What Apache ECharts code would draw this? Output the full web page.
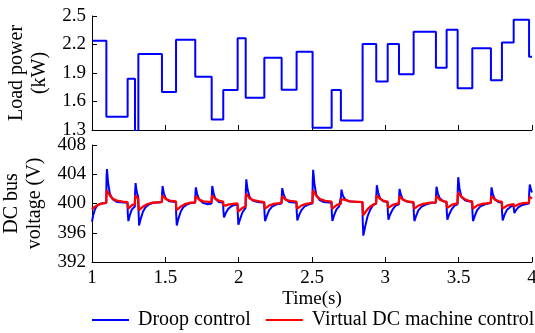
<!DOCTYPE html>
<html>
<head>
<meta charset="utf-8">
<script src="https://cdn.jsdelivr.net/npm/echarts@6/dist/echarts.min.js"></script>
<style>html,body{margin:0;padding:0;background:#fff;}#c{width:535px;height:333px;}</style>
</head>
<body>
<div id="c"></div>
<script>
// ---- data ----
const xTicks = [1, 1.5, 2, 2.5, 3, 3.5, 4];
const powerTicks = [1.3, 1.6, 1.9, 2.2, 2.5];
const voltageTicks = [392, 396, 400, 404, 408];

// load power steps [time (s), kW]
const loadPower = [
  [1.0,2.24],[1.098,1.44],[1.243,1.84],[1.293,1.28],[1.316,2.10],[1.477,1.70],[1.573,2.25],
  [1.704,1.86],[1.816,1.41],[1.895,1.72],[1.993,2.265],[2.048,1.64],[2.175,2.06],[2.293,1.725],
  [2.395,2.125],[2.504,1.325],[2.634,1.72],[2.697,1.40],[2.845,2.205],[2.938,1.81],[3.016,2.205],
  [3.093,1.886],[3.193,2.335],[3.345,1.956],[3.418,2.356],[3.493,1.74],[3.593,2.16],[3.72,1.823],
  [3.795,2.22],[3.875,2.46],[3.98,2.07],[4.0,2.07]
];

// droop control DC bus voltage [time, V]
const droopVoltage = [
  [1.000,397.5],[1.008,398.4],[1.02,399.2],[1.035,399.7],[1.06,400.0],[1.097,400.1],
  [1.099,403.5],[1.102,404.7],[1.110,402.8],[1.122,401.3],[1.140,400.6],[1.170,400.2],[1.242,400.1],
  [1.244,398.6],[1.248,397.6],[1.258,398.4],[1.272,399.2],[1.292,399.6],
  [1.294,401.5],[1.297,402.8],[1.305,401.6],[1.315,400.9],
  [1.317,399.2],[1.321,397.0],[1.332,397.9],[1.348,398.9],[1.365,399.5],[1.39,399.9],[1.42,400.1],[1.476,400.2],
  [1.478,401.3],[1.481,402.4],[1.490,401.4],[1.503,400.7],[1.525,400.3],[1.572,400.2],
  [1.574,398.5],[1.578,397.0],[1.589,397.9],[1.605,398.9],[1.622,399.5],[1.65,399.9],[1.68,400.1],[1.703,400.1],
  [1.705,401.2],[1.708,402.2],[1.717,401.3],[1.730,400.6],[1.755,400.1],[1.790,399.9],[1.815,400.0],
  [1.817,401.2],[1.820,402.4],[1.829,401.4],[1.842,400.6],[1.865,400.2],[1.894,400.1],
  [1.896,399.0],[1.900,398.1],[1.912,398.7],[1.930,399.3],[1.955,399.7],[1.992,399.9],
  [1.994,398.6],[1.998,397.1],[2.010,397.9],[2.026,398.8],[2.047,399.4],
  [2.049,401.8],[2.052,403.3],[2.061,401.9],[2.074,400.9],[2.095,400.4],[2.13,400.2],[2.174,400.1],
  [2.176,398.8],[2.180,397.6],[2.192,398.3],[2.208,399.1],[2.230,399.6],[2.26,399.9],[2.292,400.0],
  [2.294,401.1],[2.297,402.1],[2.306,401.3],[2.319,400.6],[2.345,400.2],[2.394,400.1],
  [2.396,398.8],[2.400,397.7],[2.412,398.4],[2.428,399.1],[2.450,399.6],[2.48,399.9],[2.503,400.0],
  [2.505,403.0],[2.508,404.6],[2.517,402.6],[2.529,401.2],[2.550,400.5],[2.58,400.2],[2.633,400.1],
  [2.635,398.8],[2.639,397.6],[2.651,398.4],[2.667,399.2],[2.685,399.6],[2.696,399.8],
  [2.698,401.0],[2.701,401.9],[2.710,401.1],[2.724,400.6],[2.75,400.3],[2.80,400.2],[2.844,400.2],
  [2.846,397.5],[2.850,395.6],[2.862,396.8],[2.878,398.2],[2.898,399.2],[2.918,399.8],[2.937,400.0],
  [2.939,401.3],[2.942,402.5],[2.951,401.5],[2.964,400.7],[2.985,400.3],[3.015,400.2],
  [3.017,398.9],[3.021,397.8],[3.033,398.5],[3.050,399.2],[3.070,399.7],[3.092,399.9],
  [3.094,401.0],[3.097,402.0],[3.106,401.2],[3.119,400.6],[3.14,400.3],[3.192,400.1],
  [3.194,398.8],[3.198,397.6],[3.210,398.3],[3.226,399.1],[3.25,399.6],[3.28,399.9],[3.32,400.1],[3.344,400.1],
  [3.346,401.2],[3.349,402.3],[3.358,401.4],[3.371,400.7],[3.395,400.3],[3.417,400.2],
  [3.419,398.9],[3.423,397.8],[3.435,398.5],[3.452,399.2],[3.472,399.7],[3.492,399.9],
  [3.494,402.0],[3.497,403.6],[3.506,402.0],[3.519,400.9],[3.545,400.4],[3.592,400.2],
  [3.594,398.8],[3.598,397.6],[3.610,398.3],[3.626,399.1],[3.648,399.6],[3.68,399.9],[3.719,400.1],
  [3.721,401.2],[3.724,402.2],[3.733,401.3],[3.746,400.6],[3.77,400.2],[3.794,400.1],
  [3.796,398.8],[3.800,397.7],[3.812,398.4],[3.828,399.1],[3.850,399.5],[3.874,399.8],
  [3.876,399.3],[3.880,398.7],[3.891,399.1],[3.908,399.5],[3.935,399.8],[3.979,400.0],
  [3.981,401.5],[3.985,402.6],[3.993,401.9],[4.000,401.5]
];

// virtual DC machine control DC bus voltage [time, V]
const vdcmVoltage = [
  [1.000,399.2],[1.015,399.5],[1.04,399.8],[1.07,400.0],[1.097,400.1],
  [1.099,401.2],[1.101,401.8],[1.110,401.5],[1.125,401.0],[1.145,400.6],[1.17,400.4],[1.21,400.25],[1.242,400.2],
  [1.244,399.6],[1.247,399.3],[1.258,399.5],[1.275,399.8],[1.292,399.9],
  [1.294,400.7],[1.296,401.1],[1.305,400.9],[1.315,400.6],
  [1.317,399.6],[1.320,399.1],[1.332,399.3],[1.350,399.6],[1.375,399.9],[1.41,400.1],[1.476,400.2],
  [1.478,400.8],[1.480,401.1],[1.490,400.9],[1.505,400.6],[1.53,400.4],[1.572,400.3],
  [1.574,399.6],[1.577,399.1],[1.589,399.3],[1.607,399.6],[1.632,399.9],[1.67,400.1],[1.703,400.15],
  [1.705,400.7],[1.707,401.0],[1.717,400.8],[1.733,400.5],[1.76,400.3],[1.815,400.2],
  [1.817,400.8],[1.819,401.1],[1.829,400.9],[1.845,400.6],[1.87,400.35],[1.894,400.25],
  [1.896,399.8],[1.899,399.6],[1.91,399.7],[1.93,399.85],[1.96,399.95],[1.992,400.0],
  [1.994,399.3],[1.997,398.9],[2.008,399.1],[2.026,399.4],[2.047,399.6],
  [2.049,400.9],[2.051,401.35],[2.06,401.1],[2.075,400.7],[2.10,400.45],[2.14,400.3],[2.174,400.2],
  [2.176,399.6],[2.179,399.3],[2.190,399.5],[2.21,399.75],[2.24,399.95],[2.292,400.1],
  [2.294,400.7],[2.296,401.0],[2.306,400.8],[2.323,400.5],[2.35,400.35],[2.394,400.25],
  [2.396,399.6],[2.399,399.3],[2.410,399.5],[2.43,399.75],[2.46,399.95],[2.503,400.1],
  [2.505,401.2],[2.507,401.8],[2.516,401.5],[2.531,401.0],[2.555,400.6],[2.59,400.35],[2.633,400.25],
  [2.635,399.6],[2.638,399.3],[2.65,399.5],[2.67,399.8],[2.696,399.95],
  [2.698,400.6],[2.700,400.8],[2.71,400.7],[2.725,400.5],[2.76,400.3],[2.844,400.2],
  [2.846,399.2],[2.849,398.4],[2.860,398.7],[2.878,399.2],[2.898,399.6],[2.918,399.85],[2.937,400.0],
  [2.939,400.8],[2.941,401.1],[2.951,400.9],[2.967,400.6],[2.99,400.35],[3.015,400.25],
  [3.017,399.7],[3.020,399.4],[3.031,399.55],[3.05,399.8],[3.075,399.95],[3.092,400.0],
  [3.094,400.7],[3.096,401.0],[3.106,400.8],[3.122,400.5],[3.15,400.3],[3.192,400.2],
  [3.194,399.6],[3.197,399.3],[3.208,399.5],[3.23,399.75],[3.26,399.95],[3.30,400.1],[3.344,400.15],
  [3.346,400.7],[3.348,401.0],[3.358,400.8],[3.374,400.5],[3.40,400.3],[3.417,400.25],
  [3.419,399.7],[3.422,399.4],[3.433,399.55],[3.452,399.8],[3.475,399.95],[3.492,400.0],
  [3.494,401.0],[3.496,401.5],[3.505,401.3],[3.520,400.9],[3.545,400.55],[3.57,400.35],[3.592,400.3],
  [3.594,399.6],[3.597,399.3],[3.608,399.5],[3.628,399.75],[3.66,399.95],[3.719,400.1],
  [3.721,400.7],[3.723,401.0],[3.733,400.8],[3.75,400.5],[3.775,400.3],[3.794,400.25],
  [3.796,399.6],[3.799,399.3],[3.810,399.5],[3.83,399.7],[3.855,399.85],[3.874,399.9],
  [3.876,399.7],[3.879,399.6],[3.890,399.75],[3.91,399.9],[3.94,400.05],[3.979,400.1],
  [3.981,400.6],[3.984,400.9],[3.993,400.8],[4.000,400.7]
];

// ---- chart ----
const FONT = 'Liberation Serif';
const chart = echarts.init(document.getElementById('c'), null, {renderer: 'canvas'});
const axisLine = {show: true, lineStyle: {color: '#000', width: 1}};
const axisTick = {show: true, inside: true, length: 5, lineStyle: {color: '#000'}};
chart.setOption({
  animation: false,
  backgroundColor: '#fff',
  grid: [
    {left: 92, top: 16, width: 440, height: 114, outerBoundsMode: 'none', containLabel: false},
    {left: 92, top: 145, width: 440, height: 117, outerBoundsMode: 'none', containLabel: false}
  ],
  legend: {
    data: ['Droop control', 'Virtual DC machine control'],
    left: 92, top: 310, padding: 0,
    icon: 'rect',
    itemWidth: 37, itemHeight: 2, itemGap: 15,
    textStyle: {fontFamily: FONT, fontSize: 20, color: '#000', padding: [0, 0, 0, 4]}
  },
  xAxis: [
    {type: 'value', gridIndex: 0, min: 1, max: 4, interval: 0.5,
     axisLine: axisLine, axisTick: axisTick, axisLabel: {show: false}, splitLine: {show: false}},
    {type: 'value', gridIndex: 1, min: 1, max: 4, interval: 0.5,
     axisLine: axisLine, axisTick: axisTick, splitLine: {show: false},
     axisLabel: {fontFamily: FONT, fontSize: 19, color: '#000', margin: 7,
       customValues: xTicks, formatter: v => String(v)},
     name: 'Time(s)', nameLocation: 'middle', nameGap: 28,
     nameTextStyle: {fontFamily: FONT, fontSize: 19, color: '#000'}}
  ],
  yAxis: [
    {type: 'value', gridIndex: 0, min: 1.3, max: 2.5,
     axisLine: axisLine, splitLine: {show: false},
     axisTick: Object.assign({}, axisTick, {customValues: powerTicks}),
     axisLabel: {fontFamily: FONT, fontSize: 19, color: '#000', margin: 6,
       customValues: powerTicks, formatter: v => v.toFixed(1)},
     name: 'Load power\n(kW)', nameLocation: 'middle', nameGap: 38,
     nameTextStyle: {fontFamily: FONT, fontSize: 20, color: '#000', lineHeight: 23}},
    {type: 'value', gridIndex: 1, min: 392, max: 408, interval: 4,
     axisLine: axisLine, axisTick: axisTick, splitLine: {show: false},
     axisLabel: {fontFamily: FONT, fontSize: 19, color: '#000', margin: 6,
       customValues: voltageTicks},
     name: 'DC bus\nvoltage (V)', nameLocation: 'middle', nameGap: 38,
     nameTextStyle: {fontFamily: FONT, fontSize: 20, color: '#000', lineHeight: 23}}
  ],
  series: [
    {name: 'Load power', type: 'line', xAxisIndex: 0, yAxisIndex: 0, step: 'end',
     data: loadPower, symbol: 'none', showSymbol: false, clip: true,
     lineStyle: {color: '#0000ff', width: 2}, itemStyle: {color: '#0000ff'}},
    {name: 'Droop control', type: 'line', xAxisIndex: 1, yAxisIndex: 1,
     data: droopVoltage, symbol: 'none', showSymbol: false,
     lineStyle: {color: '#0000ff', width: 2}, itemStyle: {color: '#0000ff'}},
    {name: 'Virtual DC machine control', type: 'line', xAxisIndex: 1, yAxisIndex: 1,
     data: vdcmVoltage, symbol: 'none', showSymbol: false,
     lineStyle: {color: '#ff0000', width: 2.3}, itemStyle: {color: '#ff0000'}}
  ]
});
</script>
</body>
</html>
